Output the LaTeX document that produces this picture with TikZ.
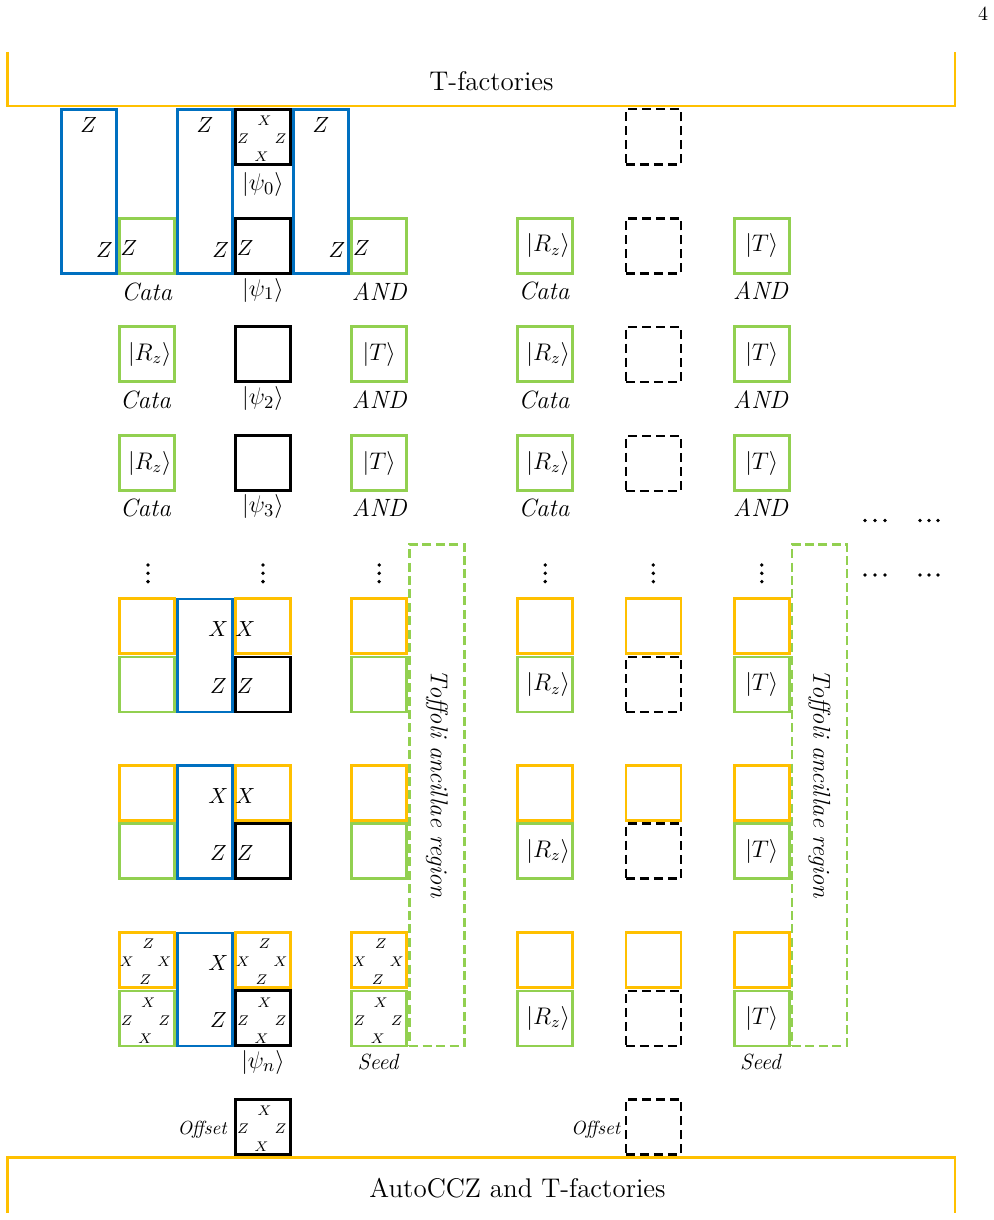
\documentclass[tikz,border=0pt]{standalone}
\usetikzlibrary{calc}
\definecolor{qblue}{HTML}{0070C0}
\definecolor{qgreen}{HTML}{92D050}
\definecolor{qorange}{HTML}{FFC000}
\tikzset{
 cellbox/.style={draw, minimum width=27.5pt, minimum height=27.5pt, inner sep=0pt, line width=1.3pt},
 gbox/.style={cellbox, draw=qgreen},
 obox/.style={cellbox, draw=qorange},
 kbox/.style={cellbox, draw=black, line width=1.4pt},
 dbox/.style={cellbox, draw=black, line width=1.2pt, dash pattern=on 4.5pt off 2.5pt},
 bbox/.style={draw=qblue, line width=1.3pt, minimum width=27.5pt, inner sep=0pt},
 toff/.style={draw=qgreen, line width=1.2pt, dash pattern=on 4.5pt off 2.2pt, minimum width=27.5pt, minimum height=250.8pt, inner sep=0pt},
 lt/.style={font=\fontsize{10.5}{12}\selectfont, inner sep=0pt},
 ket/.style={font=\fontsize{11.5}{13}\selectfont, inner sep=0pt},
 sm/.style={font=\fontsize{7.5}{9}\selectfont, inner sep=0pt},
 caplab/.style={font=\fontsize{12.5}{14}\selectfont\itshape, inner sep=0pt},
 psil/.style={font=\fontsize{13}{15}\selectfont, inner sep=0pt},
 seedl/.style={font=\fontsize{11}{13}\selectfont\itshape, inner sep=0pt},
 offl/.style={font=\fontsize{9.5}{11}\selectfont\itshape, inner sep=0pt, anchor=east},
 tofftext/.style={font=\fontsize{12.2}{14}\selectfont\itshape, inner sep=0pt, rotate=-90},
 bigt/.style={font=\fontsize{13.5}{15}\selectfont, inner sep=0pt},
 barline/.style={draw=qorange, line width=1.3pt},
 pgl/.style={font=\fontsize{10}{12}\selectfont, inner sep=0pt},
 dotc/.style={fill=black, draw=none},
}
\newcommand{\qlabs}[3]{%
 \node[sm] at ($(#1)+(1.5,-16)$) {$#2$};
 \node[sm] at ($(#1)+(-1.5,20)$) {$#2$};
 \node[sm] at ($(#1)+(-20,2)$) {$#3$};
 \node[sm] at ($(#1)+(17.5,2)$) {$#3$};
}
\begin{document}
\begin{tikzpicture}[x=0.5pt,y=-0.5pt]
\useasboundingbox (0,0) rectangle (994,1220);
% page number
\node[pgl] (pgno) at (983,14) {4};
% bars
\draw[barline] (7.3,52) -- (7.3,106) -- (955,106) -- (955,52);
\node[bigt] (tf) at (491.5,81) {T-factories};
\draw[barline] (7.3,1213) -- (7.3,1157.7) -- (955,1157.7) -- (955,1213);
\node[bigt] (acz) at (517.5,1188) {AutoCCZ and T-factories};

% ---------- top rows ----------
\node[bbox, minimum height=81.8pt] (a0) at (88.7,191.5) {};
\node[bbox, minimum height=81.8pt] (c0) at (204.8,191.5) {};
\node[bbox, minimum height=81.8pt] (e0) at (321,191.5) {};
\foreach \nm in {a0,c0,e0}{
  \node[lt] at ($(\nm.north)+(0,17)$) {$Z$};
  \node[lt] at ($(\nm.south east)+(-13,-25)$) {$Z$};
}
\node[kbox] (psi0) at (263,137.2) {};
\qlabs{psi0}{X}{Z}
\node[psil] (lpsi0) at (263,185) {$|\psi_0\rangle$};

\node[gbox] (b1) at (146.8,245.8) {};
\node[kbox] (psi1) at (263,245.8) {};
\node[gbox] (f1) at (379.2,245.8) {};
\node[lt] at ($(b1.west)+(11,2)$) {$Z$};
\node[lt] at ($(psi1.west)+(11,2)$) {$Z$};
\node[lt] at ($(f1.west)+(11,2)$) {$Z$};
\node[caplab] (lb1) at (146.8,291.5) {Cata};
\node[psil] (lpsi1) at (263,290) {$|\psi_1\rangle$};
\node[caplab] (lf1) at (379.2,291.5) {AND};

\node[gbox] (g1) at (545.2,245.8) {};
\node[dbox] (h0) at (653.3,136.8) {};
\node[dbox] (h1) at (653.3,245.8) {};
\node[gbox] (i1) at (761.8,245.8) {};
\node[ket] at ($(g1)+(3,0)$) {$|R_z\rangle$};
\node[ket] at (i1) {$|T\rangle$};
\node[caplab] (lg1) at (544,291) {Cata};
\node[caplab] (li1) at (760.5,291) {AND};

\foreach \r/\y/\ly in {2/354.2/400, 3/463.2/508}{
  \node[gbox] (b\r) at (146.8,\y) {};
  \node[kbox] (psi\r) at (263,\y) {};
  \node[gbox] (f\r) at (379.2,\y) {};
  \node[gbox] (g\r) at (545.2,\y) {};
  \node[dbox] (h\r) at (653.3,\y) {};
  \node[gbox] (i\r) at (761.8,\y) {};
  \node[ket] at ($(b\r)+(3,0)$) {$|R_z\rangle$};
  \node[ket] at (f\r) {$|T\rangle$};
  \node[ket] at ($(g\r)+(3,0)$) {$|R_z\rangle$};
  \node[ket] at (i\r) {$|T\rangle$};
  \node[caplab] (lb\r) at (145.5,\ly) {Cata};
  \node[psil] (lpsi\r) at (263,\ly-1.5) {$|\psi_\r\rangle$};
  \node[caplab] (lf\r) at (379.2,\ly) {AND};
  \node[caplab] (lg\r) at (544,\ly) {Cata};
  \node[caplab] (li\r) at (760.5,\ly) {AND};
}

% ---------- dots ----------
\foreach \x in {148,263,379.2,545.2,653.3,761.8}{
  \foreach \yy in {565,573.3,581.6}{
    \fill[dotc] (\x,\yy) circle[radius=1.9];
  }
}
\foreach \xx in {865,875,885, 920,929,938}{
  \fill[dotc] (\xx,520.5) circle[radius=1.8];
  \fill[dotc] (\xx,575) circle[radius=1.8];
}

% ---------- toffoli regions ----------
\node[toff] (tof1) at (436.8,795.2) {};
\node[toff] (tof2) at (819.5,795.2) {};
\node[tofftext] (toft1) at (437,784) {Toffoli ancillae region};
\node[tofftext] (toft2) at (819.5,784) {Toffoli ancillae region};

% ---------- blocks ----------
\foreach \n/\yo/\yg/\yb in {1/626.2/684.5/655.5, 2/792.7/851/822, 3/960/1018.3/989.5}{
  \node[obox] (ob\n) at (146.8,\yo) {};
  \node[gbox] (gb\n) at (146.8,\yg) {};
  \node[bbox, minimum height=56.5pt] (cb\n) at (204.8,\yb) {};
  \node[obox] (od\n) at (263,\yo) {};
  \node[kbox] (kd\n) at (263,\yg) {};
  \node[obox] (of\n) at (379.2,\yo) {};
  \node[gbox] (gf\n) at (379.2,\yg) {};
  \node[obox] (og\n) at (545.2,\yo) {};
  \node[gbox] (gg\n) at (545.2,\yg) {};
  \node[obox] (oh\n) at (653.3,\yo) {};
  \node[dbox] (dh\n) at (653.3,\yg) {};
  \node[obox] (oi\n) at (761.8,\yo) {};
  \node[gbox] (gi\n) at (761.8,\yg) {};
  \node[lt] at (218.3,\yo+3) {$X$};
  \node[lt] at (218.3,\yg+2) {$Z$};
  \node[ket] at ($(gg\n)+(3,0)$) {$|R_z\rangle$};
  \node[ket] at (gi\n) {$|T\rangle$};
}
\foreach \n in {1,2}{
  \node[lt] at ($(od\n.west)+(11,3)$) {$X$};
  \node[lt] at ($(kd\n.west)+(11,2)$) {$Z$};
}
\qlabs{ob3}{Z}{X}
\qlabs{gb3}{X}{Z}
\qlabs{od3}{Z}{X}
\qlabs{kd3}{X}{Z}
\qlabs{of3}{Z}{X}
\qlabs{gf3}{X}{Z}
\node[psil] (lpsin) at (263,1062) {$|\psi_n\rangle$};
\node[seedl] (seed1) at (378,1062) {Seed};
\node[seedl] (seed2) at (760.5,1062) {Seed};

% ---------- offsets ----------
\node[kbox] (offk) at (263,1126.8) {};
\qlabs{offk}{X}{Z}
\node[dbox] (offd) at (653.3,1126.8) {};
\node[offl] (lok) at ($(offk.west)+(-7,2.5)$) {Offset};
\node[offl] (lod) at ($(offd.west)+(-4,2.5)$) {Offset};
\end{tikzpicture}
\end{document}
